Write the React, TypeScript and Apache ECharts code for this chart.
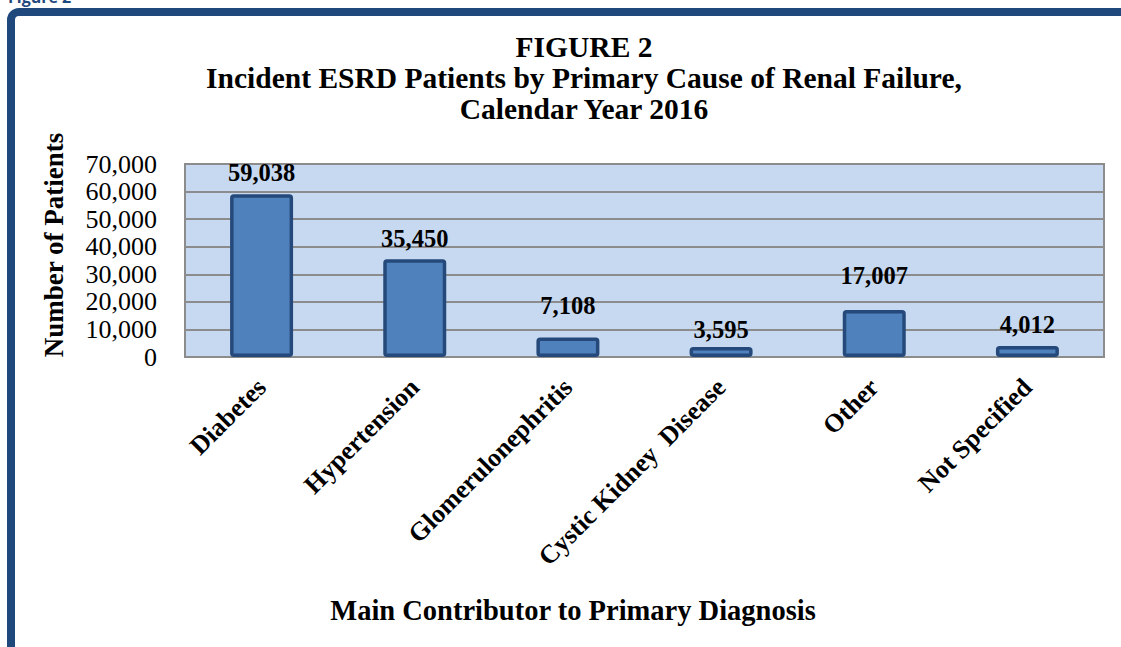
import React, { useEffect, useRef } from "react";
import * as echarts from "echarts";

const categories = [
  "Diabetes",
  "Hypertension",
  "Glomerulonephritis",
  "Cystic Kidney  Disease",
  "Other",
  "Not Specified",
];
const patients = [59038, 35450, 7108, 3595, 17007, 4012];
const labelGaps = [9, 8, 19, 5, 22, 9];
const yTicks = { min: 0, max: 70000, interval: 10000 };

const titleLines = [
  "FIGURE 2",
  "Incident ESRD Patients by Primary Cause of Renal Failure,",
  "Calendar Year 2016",
];
const yName = "Number of Patients";
const xName = "Main Contributor to Primary Diagnosis";
const figTag = "Figure 2";

const SERIF = "'Liberation Serif', 'Times New Roman', serif";
const NAVY = "#1F497D";

export default function App() {
  const ref = useRef<HTMLDivElement>(null);
  useEffect(() => {
    if (!ref.current) return;
    const chart = echarts.init(ref.current, null, { renderer: "svg" });
    const fmt = (v: number) => v.toLocaleString("en-US");
    chart.setOption({
      animation: false,
      backgroundColor: "#ffffff",
      grid: {
        left: 185,
        right: 17,
        top: 164,
        bottom: 290,
        show: true,
        backgroundColor: "#C6D9F1",
        borderColor: "#8C8C8C",
        borderWidth: 2,
      },
      xAxis: {
        type: "category",
        data: categories,
        axisLine: { show: true, lineStyle: { color: "#8C8C8C", width: 2 } },
        axisTick: { show: false },
        axisLabel: {
          rotate: 45,
          interval: 0,
          margin: 26,
          fontSize: 26,
          fontWeight: "bold",
          fontFamily: SERIF,
          color: "#000",
        },
      },
      yAxis: {
        type: "value",
        min: yTicks.min,
        max: yTicks.max,
        interval: yTicks.interval,
        axisLine: { show: false },
        axisTick: { show: false },
        splitLine: { lineStyle: { color: "#8C8C8C", width: 2 } },
        axisLabel: {
          margin: 28,
          fontSize: 26,
          fontFamily: SERIF,
          color: "#000",
          formatter: (v: number) => fmt(v),
        },
      },
      series: [
        {
          type: "bar",
          barWidth: 63,
          data: patients.map((v, i) => ({
            value: v,
            label: { distance: labelGaps[i] },
          })),
          itemStyle: {
            color: "#4F81BD",
            borderColor: "#24497A",
            borderWidth: 3.5,
            borderRadius: 2,
          },
          label: {
            show: true,
            position: "top",
            fontSize: 24.5,
            fontWeight: "bold",
            fontFamily: SERIF,
            color: "#000",
            formatter: (p: any) => fmt(p.value),
          },
        },
      ],
      graphic: [
        {
          type: "rect",
          shape: { x: 11, y: 12, width: 1300, height: 800, r: 8 },
          style: { fill: "none", stroke: NAVY, lineWidth: 8 },
          silent: true,
        },
        {
          type: "text",
          x: 8,
          y: 5,
          style: {
            text: figTag,
            fill: NAVY,
            font: "bold 16px 'Open Sans', sans-serif",
            textAlign: "left",
            textVerticalAlign: "bottom",
          },
        },
        {
          type: "text",
          x: 584,
          y: 31,
          style: {
            text: titleLines.join("\n"),
            fill: "#000",
            fontSize: 29.5,
            fontWeight: "bold",
            fontFamily: SERIF,
            lineHeight: 31,
            textAlign: "center",
            textVerticalAlign: "top",
          },
        },
        {
          type: "text",
          x: 54,
          y: 245,
          rotation: Math.PI / 2,
          style: {
            text: yName,
            fill: "#000",
            fontSize: 27,
            fontWeight: "bold",
            fontFamily: SERIF,
            textAlign: "center",
            textVerticalAlign: "middle",
          },
        },
        {
          type: "text",
          x: 573,
          y: 610,
          style: {
            text: xName,
            fill: "#000",
            fontSize: 28.5,
            fontWeight: "bold",
            fontFamily: SERIF,
            textAlign: "center",
            textVerticalAlign: "middle",
          },
        },
      ],
    });
    return () => chart.dispose();
  }, []);
  return (
    <div
      ref={ref}
      style={{ position: "fixed", left: 0, top: 0, width: 1121, height: 647 }}
    />
  );
}
